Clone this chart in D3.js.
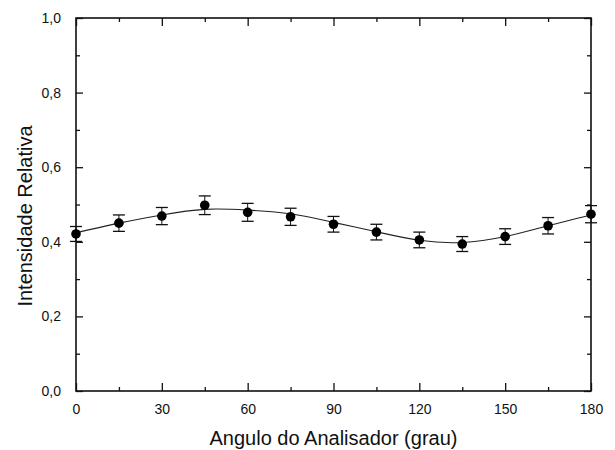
<!DOCTYPE html>
<html>
<head>
<meta charset="utf-8">
<script src="https://cdn.jsdelivr.net/npm/d3@7"></script>
<style>
  body { margin: 0; background: #fff; }
  text { font-family: Arial, "Liberation Sans", sans-serif; fill: #111; }
  .axis path, .axis line { stroke: #111; }
</style>
</head>
<body>
<div id="chart"></div>
<script>
// measured points
var angles = [0, 15, 30, 45, 60, 75, 90, 105, 120, 135, 150, 165, 180];
var intensity = [0.421, 0.450, 0.469, 0.498, 0.479, 0.467, 0.447, 0.426, 0.405, 0.394, 0.414, 0.443, 0.474];
var errors = [0.020, 0.022, 0.023, 0.025, 0.024, 0.023, 0.021, 0.021, 0.021, 0.020, 0.021, 0.022, 0.023];

// fitted curve
var fitAngles = [0, 15, 30, 45, 60, 75, 90, 105, 120, 135, 150, 165, 180];
var fitValues = [0.424, 0.450, 0.472, 0.487, 0.485, 0.475, 0.452, 0.427, 0.404, 0.398, 0.414, 0.443, 0.472];

var xMajor = [0, 30, 60, 90, 120, 150, 180];
var xMinor = [15, 45, 75, 105, 135, 165];
var yMajor = [0, 0.2, 0.4, 0.6, 0.8, 1.0];
var yMinor = [0.1, 0.3, 0.5, 0.7, 0.9];

var margin = {top: 18, right: 24, bottom: 59, left: 76}
  , width = 615 - margin.left - margin.right
  , height = 450 - margin.top - margin.bottom;

var x = d3.scaleLinear().domain([0, 180]).range([0, width]);
var y = d3.scaleLinear().domain([0, 1]).range([height, 0]);

var fmt = d3.formatLocale({decimal: ",", thousands: ".", grouping: [3], currency: ["", ""]}).format(".1f");

var svg = d3.select("#chart")
    .append("svg")
    .attr("width", 615)
    .attr("height", 450)
    .append("g")
    .attr("transform", "translate(" + margin.left + "," + margin.top + ")");

// frame
svg.append("rect")
    .attr("width", width)
    .attr("height", height)
    .attr("fill", "none")
    .attr("stroke", "#111")
    .attr("stroke-width", 1.6);

function ticks(axis, vals, size, labels) {
    return axis.tickValues(vals).tickSizeInner(-size).tickSizeOuter(0)
        .tickPadding(labels ? 8 + size : 0)
        .tickFormat(labels ? null : "");
}

// bottom
svg.append("g").attr("class", "axis").attr("transform", "translate(0," + height + ")")
    .call(ticks(d3.axisBottom(x), xMinor, 4, false));
svg.append("g").attr("class", "axis").attr("transform", "translate(0," + height + ")")
    .call(ticks(d3.axisBottom(x), xMajor, 8, true).tickPadding(5 + 8).tickFormat(d3.format("d")));
// top
svg.append("g").attr("class", "axis").call(ticks(d3.axisTop(x), xMinor, 4, false));
svg.append("g").attr("class", "axis").call(ticks(d3.axisTop(x), xMajor, 8, false));
// left
svg.append("g").attr("class", "axis").call(ticks(d3.axisLeft(y), yMinor, 4, false));
svg.append("g").attr("class", "axis")
    .call(ticks(d3.axisLeft(y), yMajor, 7, true).tickPadding(8 + 7).tickFormat(fmt));
// right
svg.append("g").attr("class", "axis").attr("transform", "translate(" + width + ",0)")
    .call(ticks(d3.axisRight(y), yMinor, 4, false));
svg.append("g").attr("class", "axis").attr("transform", "translate(" + width + ",0)")
    .call(ticks(d3.axisRight(y), yMajor, 7, false));

svg.selectAll(".axis path").remove();
svg.selectAll(".axis line").attr("stroke-width", 1.3);
svg.selectAll(".axis text").style("font-size", "14px").attr("fill", "#111");

// fitted line
var fitData = fitAngles.map(function(a, i) { return {a: a, v: fitValues[i]}; });
var valueline = d3.line()
    .x(function(d) { return x(d.a); })
    .y(function(d) { return y(d.v); })
    .curve(d3.curveNatural);

svg.append("path")
    .datum(fitData)
    .attr("d", valueline)
    .attr("fill", "none")
    .attr("stroke", "#222")
    .attr("stroke-width", 1.1);

// error bars and points
var pts = angles.map(function(a, i) { return {a: a, v: intensity[i], e: errors[i]}; });

var bars = svg.selectAll(".err").data(pts).enter().append("g").attr("class", "err");
bars.append("line")
    .attr("x1", function(d) { return x(d.a); })
    .attr("x2", function(d) { return x(d.a); })
    .attr("y1", function(d) { return y(d.v - d.e); })
    .attr("y2", function(d) { return y(d.v + d.e); })
    .attr("stroke", "#111").attr("stroke-width", 1);
bars.append("line")
    .attr("x1", function(d) { return x(d.a) - 6; })
    .attr("x2", function(d) { return x(d.a) + 6; })
    .attr("y1", function(d) { return y(d.v + d.e); })
    .attr("y2", function(d) { return y(d.v + d.e); })
    .attr("stroke", "#111").attr("stroke-width", 1.3);
bars.append("line")
    .attr("x1", function(d) { return x(d.a) - 6; })
    .attr("x2", function(d) { return x(d.a) + 6; })
    .attr("y1", function(d) { return y(d.v - d.e); })
    .attr("y2", function(d) { return y(d.v - d.e); })
    .attr("stroke", "#111").attr("stroke-width", 1.3);

svg.selectAll(".dot")
    .data(pts)
    .enter()
    .append("circle")
    .attr("class", "dot")
    .attr("r", 4.8)
    .attr("cx", function(d) { return x(d.a); })
    .attr("cy", function(d) { return y(d.v); })
    .attr("fill", "#000");

// axis titles
svg.append("text")
    .attr("x", width / 2)
    .attr("y", height + 54)
    .attr("text-anchor", "middle")
    .style("font-size", "20px")
    .text("Angulo do Analisador (grau)");

svg.append("text")
    .attr("transform", "translate(" + (32 - margin.left) + "," + (216 - margin.top) + ") rotate(-90)")
    .attr("text-anchor", "middle")
    .style("font-size", "20px")
    .text("Intensidade Relativa");
</script>
</body>
</html>
